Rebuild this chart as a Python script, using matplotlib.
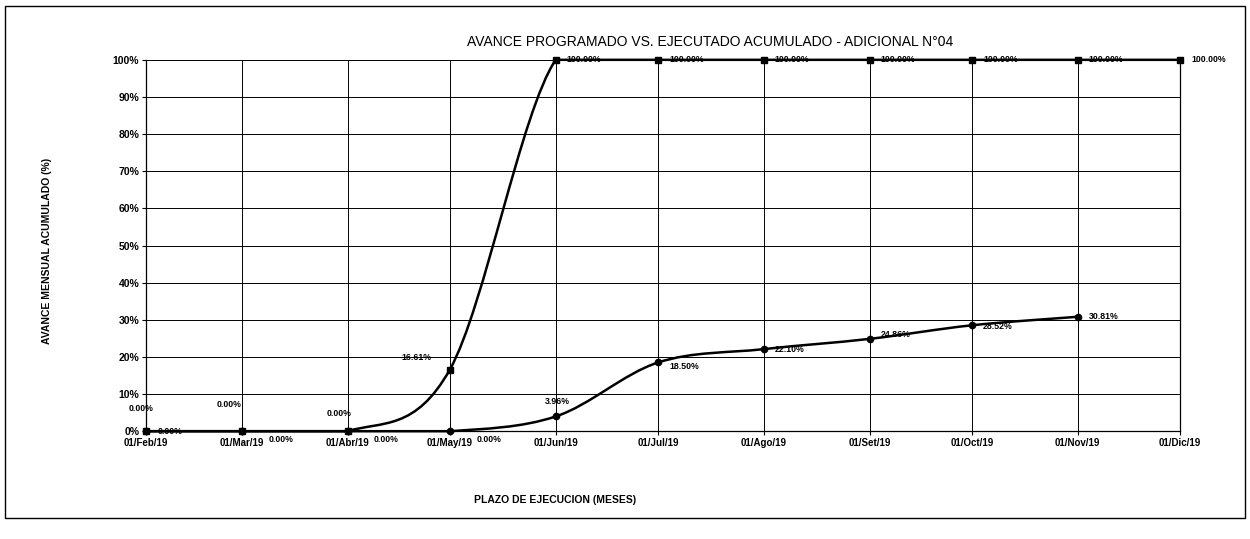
import matplotlib
matplotlib.use("Agg")
import matplotlib.pyplot as plt
import matplotlib.dates as mdates
from matplotlib.path import Path
from matplotlib.patches import PathPatch, Rectangle
import pandas as pd
import numpy as np

plt.rcParams['font.family'] = ['Liberation Sans', 'DejaVu Sans']

# ---------------- data ----------------
dates = ["2019-02-01", "2019-03-01", "2019-04-01", "2019-05-01", "2019-06-01",
         "2019-07-01", "2019-08-01", "2019-09-01", "2019-10-01", "2019-11-01",
         "2019-12-01"]
tick_labels = ["01/Feb/19", "01/Mar/19", "01/Abr/19", "01/May/19", "01/Jun/19",
               "01/Jul/19", "01/Ago/19", "01/Set/19", "01/Oct/19", "01/Nov/19",
               "01/Dic/19"]
programado = [0.0, 0.0, 0.0, 16.61, 100.0, 100.0, 100.0, 100.0, 100.0, 100.0, 100.0]
ejecutado = [0.0, 0.0, 0.0, 0.0, 3.96, 18.50, 22.10, 24.86, 28.52, 30.81]

title = "AVANCE PROGRAMADO VS. EJECUTADO ACUMULADO - ADICIONAL N°04"
ylabel = "AVANCE MENSUAL ACUMULADO (%)"
xlabel = "PLAZO DE EJECUCION (MESES)"

# label offsets (points) - style only
prog_offsets = [(-4, 16, 'center'), (-9, 19, 'center'), (-6, 13, 'center'), (-24, 9, 'center')] + \
               [(8, 0, 'left')] * 7
ejec_offsets = [(8, 0, 'left'), (19, -6, 'left'), (19, -6, 'left'), (19, -6, 'left'),
                (1, 11, 'center'), (8, -3, 'left'), (8, 0, 'left'), (8, 3, 'left'),
                (8, -1, 'left'), (8, 0, 'left')]

# ---------------- figure ----------------
fig = plt.figure(figsize=(12.5, 5.39), dpi=100)
ax = fig.add_axes([0.117, 0.200, 0.827, 0.689])

xd = mdates.date2num(pd.to_datetime(dates).to_pydatetime())
xp = xd[:len(programado)]
xe = xd[:len(ejecutado)]
yp = np.array(programado) / 100.0
ye = np.array(ejecutado) / 100.0


def smooth_path(x, y):
    """Bezier path through the data points (Excel-like smoothing, no overshoot)."""
    pts = np.column_stack([x, y])
    n = len(pts)
    verts = [pts[0]]
    codes = [Path.MOVETO]
    for i in range(n - 1):
        p0 = pts[i - 1] if i > 0 else pts[i]
        p1 = pts[i]
        p2 = pts[i + 1]
        p3 = pts[i + 2] if i + 2 < n else pts[i + 1]
        c1 = p1 + (p2 - p0) / 6.0
        c2 = p2 - (p3 - p1) / 6.0
        lo, hi = min(p1[1], p2[1]), max(p1[1], p2[1])
        c1[1] = np.clip(c1[1], lo, hi)
        c2[1] = np.clip(c2[1], lo, hi)
        verts += [c1, c2, p2]
        codes += [Path.CURVE4] * 3
    return Path(verts, codes)


ax.add_patch(PathPatch(smooth_path(xp, yp), fill=False, ec='black', lw=1.8,
                       zorder=4, clip_on=False))
ax.add_patch(PathPatch(smooth_path(xe, ye), fill=False, ec='black', lw=1.8,
                       zorder=4, clip_on=False))
ax.plot(xp, yp, ls='none', marker='s', ms=5, color='black', zorder=5, clip_on=False)
ax.plot(xe, ye, ls='none', marker='o', ms=4.5, color='black', zorder=5, clip_on=False)

for x, y, v, (dx, dy, ha) in zip(xp, yp, programado, prog_offsets):
    ax.annotate(f"{v:.2f}%", (x, y), xytext=(dx, dy), textcoords='offset points',
                ha=ha, va='center', fontsize=6.3, fontweight='bold', zorder=6,
                annotation_clip=False)
for x, y, v, (dx, dy, ha) in zip(xe, ye, ejecutado, ejec_offsets):
    ax.annotate(f"{v:.2f}%", (x, y), xytext=(dx, dy), textcoords='offset points',
                ha=ha, va='center', fontsize=6.3, fontweight='bold', zorder=6,
                annotation_clip=False)

ax.set_xlim(xd[0], xd[-1])
ax.set_ylim(0, 1.0)
ax.set_xticks(xd)
ax.set_xticklabels(tick_labels, fontsize=7, fontweight='bold')
ax.set_yticks(np.arange(0, 1.01, 0.1))
ax.set_yticklabels([f"{int(round(v * 100))}%" for v in np.arange(0, 1.01, 0.1)],
                   fontsize=7.5, fontweight='bold')
ax.tick_params(axis='both', length=3, width=0.8, color='black', pad=2)
ax.grid(True, color='black', lw=0.7)
ax.set_axisbelow(True)
for side in ['left', 'bottom', 'right']:
    ax.spines[side].set_color('black')
    ax.spines[side].set_linewidth(0.9)
ax.spines['top'].set_visible(False)

fig.text(0.568, 0.922, title, ha='center', va='center', fontsize=10)
fig.text(0.038, 0.535, ylabel, ha='center', va='center', rotation=90,
         fontsize=7.5, fontweight='bold')
fig.text(0.444, 0.072, xlabel, ha='center', va='center', fontsize=7.5,
         fontweight='bold')

fig.patches.append(Rectangle((5 / 1250, 1 - 518 / 539), 1240 / 1250, 512 / 539,
                             transform=fig.transFigure, fill=False,
                             ec='black', lw=1.0))

fig.savefig("out.png", dpi=100)
